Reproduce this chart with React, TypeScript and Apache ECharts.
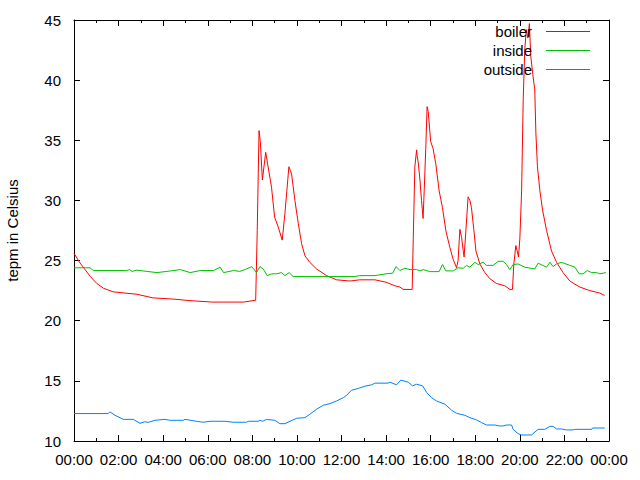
import React, { useEffect, useRef } from "react";
import * as echarts from "echarts";

const seriesNames = ["boiler", "inside", "outside"];
const seriesColors = ["#ff0000", "#00c000", "#0080ff"];
const yTitle = "tepm in Celsius";

// [hour of day, temperature]
const boiler: [number, number][] = [
  [0, 25.6], [0.27, 24.8], [0.72, 23.7], [1.02, 23.1], [1.32, 22.7], [1.76, 22.4], [2.29, 22.3], [2.82, 22.2],
  [3.54, 21.9], [4.44, 21.8], [5.2, 21.67], [6.2, 21.55], [7.6, 21.55], [8.03, 21.67], [8.15, 21.7], [8.22, 27.5],
  [8.3, 35.8], [8.36, 34.9], [8.45, 31.7], [8.6, 34.0], [8.68, 33.1], [8.86, 31.1], [9.0, 28.6], [9.16, 27.8],
  [9.34, 26.7], [9.46, 28.9], [9.64, 32.8], [9.76, 32.2], [9.91, 30.0], [10.06, 28.1], [10.21, 26.4], [10.36, 25.4],
  [10.58, 24.85], [10.88, 24.3], [11.33, 23.75], [11.78, 23.4], [12.38, 23.3], [12.82, 23.4], [13.5, 23.4], [14.0, 23.2],
  [14.4, 22.9], [14.62, 22.8], [14.77, 22.6], [15.17, 22.6], [15.22, 26.9], [15.29, 32.8], [15.37, 34.2], [15.39, 33.75],
  [15.44, 33.2], [15.52, 31.7], [15.59, 30.0], [15.66, 28.5], [15.71, 30.8], [15.78, 34.3], [15.84, 37.8], [15.89, 37.4],
  [16.0, 34.9], [16.11, 34.3], [16.23, 33.05], [16.38, 30.8], [16.53, 29.4], [16.68, 27.5], [16.86, 26.1], [17.01, 25.1],
  [17.16, 24.4], [17.23, 25.0], [17.31, 27.6], [17.39, 26.9], [17.46, 25.8], [17.5, 25.3], [17.58, 27.5], [17.68, 30.3],
  [17.76, 30.0], [17.83, 29.4], [17.94, 27.5], [18.03, 25.8], [18.21, 24.7], [18.43, 24.0], [18.65, 23.5], [18.95, 23.1],
  [19.33, 22.9], [19.55, 22.6], [19.67, 22.6], [19.73, 24.7], [19.82, 26.25], [19.88, 25.8], [19.94, 25.3], [20.0, 26.8],
  [20.08, 30.8], [20.15, 38.3], [20.22, 42.5], [20.29, 44.2], [20.36, 43.5], [20.43, 44.7], [20.49, 42.0], [20.58, 40.5],
  [20.67, 39.2], [20.72, 35.6], [20.79, 32.8], [20.9, 30.8], [21.02, 29.2], [21.2, 27.5], [21.42, 25.8], [21.65, 24.85],
  [21.94, 24.0], [22.24, 23.3], [22.69, 22.8], [23.14, 22.5], [23.59, 22.3], [23.81, 22.1],
];

const inside: [number, number][] = [
  [0, 24.4], [0.72, 24.4], [0.87, 24.17], [2.36, 24.17], [2.5, 24.25], [2.6, 24.1], [2.82, 24.2], [3.27, 24.1],
  [3.72, 24.0], [4.17, 24.1], [4.77, 24.25], [5.21, 24.0], [5.66, 24.17], [6.26, 24.17], [6.56, 24.45], [6.71, 24.0],
  [7.16, 24.17], [7.44, 24.1], [7.74, 24.3], [7.97, 24.5], [8.19, 24.0], [8.34, 24.5], [8.49, 24.3], [8.67, 23.75],
  [8.87, 23.9], [9.09, 23.9], [9.31, 24.0], [9.46, 23.75], [9.65, 24.0], [9.83, 23.67], [12.6, 23.67], [12.82, 23.75],
  [13.5, 23.75], [14.0, 23.9], [14.3, 23.95], [14.45, 24.5], [14.62, 24.17], [14.84, 24.36], [15.07, 24.25], [15.37, 24.25],
  [15.52, 24.14], [15.66, 24.25], [15.96, 24.08], [16.38, 24.08], [16.53, 24.67], [16.68, 24.14], [17.01, 24.14], [17.23, 24.4],
  [17.46, 24.36], [17.61, 24.6], [17.76, 24.45], [17.98, 24.86], [18.13, 24.67], [18.35, 24.86], [18.5, 24.6], [18.8, 24.6],
  [19.03, 24.94], [19.25, 24.94], [19.4, 24.67], [19.55, 24.25], [19.7, 24.67], [19.92, 24.72], [20.22, 24.45], [20.67, 24.3],
  [20.82, 24.78], [21.2, 24.45], [21.35, 24.86], [21.49, 24.5], [21.65, 24.72], [21.87, 24.86], [22.24, 24.6], [22.47, 24.45],
  [22.66, 23.9], [22.84, 23.9], [23.02, 24.17], [23.22, 24.0], [23.44, 24.0], [23.59, 23.9], [23.86, 24.0],
];

const outside: [number, number][] = [
  [0, 12.28], [1.54, 12.28], [1.61, 12.42], [1.84, 12.14], [2.21, 11.8], [2.66, 11.8], [2.96, 11.47], [3.18, 11.6],
  [3.33, 11.55], [3.63, 11.72], [4.08, 11.8], [4.3, 11.72], [4.9, 11.72], [4.98, 11.8], [5.5, 11.64], [5.8, 11.56],
  [6.1, 11.64], [6.77, 11.64], [7.14, 11.56], [7.74, 11.56], [7.82, 11.64], [8.26, 11.64], [8.34, 11.72], [8.46, 11.64],
  [8.64, 11.8], [9.01, 11.72], [9.24, 11.44], [9.46, 11.44], [9.69, 11.64], [9.99, 11.89], [10.36, 11.94], [10.58, 12.22],
  [10.88, 12.64], [11.18, 12.97], [11.48, 13.11], [11.78, 13.33], [12.08, 13.6], [12.23, 13.8], [12.45, 14.22], [12.75, 14.37],
  [13.05, 14.56], [13.35, 14.67], [13.5, 14.81], [14.09, 14.81], [14.17, 14.89], [14.47, 14.67], [14.66, 15.06], [14.99, 14.89],
  [15.19, 14.58], [15.37, 14.72], [15.64, 14.58], [15.82, 14.03], [16.04, 13.6], [16.26, 13.33], [16.64, 13.06], [16.94, 12.56],
  [17.16, 12.3], [17.53, 12.14], [17.76, 11.94], [18.06, 11.75], [18.28, 11.53], [18.51, 11.33], [18.88, 11.33], [19.1, 11.25],
  [19.25, 11.25], [19.4, 11.33], [19.63, 11.33], [19.7, 10.97], [19.92, 10.61], [20.08, 10.5], [20.52, 10.5], [20.82, 10.97],
  [21.12, 10.97], [21.35, 11.22], [21.49, 11.22], [21.65, 11.0], [21.87, 11.0], [22.09, 10.92], [22.39, 10.92], [22.47, 10.97],
  [23.22, 10.97], [23.26, 11.08], [23.81, 11.08],
];

const seriesData = [boiler, inside, outside];

const FONT = "'Liberation Sans', Arial, sans-serif";
const FS = 15;

export default function App() {
  const ref = useRef<HTMLDivElement>(null);
  useEffect(() => {
    if (!ref.current) return;
    const chart = echarts.init(ref.current, undefined, { renderer: "svg" });
    const pad = (n: number) => (n < 10 ? "0" + n : "" + n);
    const xCommon = {
      type: "value" as const,
      min: 0,
      max: 24,
      interval: 2,
      axisLine: { show: true, onZero: false, lineStyle: { color: "#000", width: 1 } },
      axisTick: { show: true, inside: true, length: 6, lineStyle: { color: "#000" } },
      minorTick: { show: true, splitNumber: 2, length: 3, lineStyle: { color: "#000" } },
      splitLine: { show: false },
    };
    const yCommon = {
      type: "value" as const,
      min: 10,
      max: 45,
      interval: 5,
      axisLine: { show: true, onZero: false, lineStyle: { color: "#000", width: 1 } },
      axisTick: { show: true, inside: true, length: 6, lineStyle: { color: "#000" } },
      splitLine: { show: false },
    };
    chart.setOption({
      animation: false,
      backgroundColor: "#fff",
      grid: { left: 74, right: 31, top: 20, bottom: 39, containLabel: false, outerBoundsMode: "none" },
      xAxis: [
        {
          ...xCommon,
          position: "bottom",
          axisLabel: {
            show: true,
            margin: 11,
            color: "#000",
            fontSize: FS,
            fontFamily: FONT,
            formatter: (v: number) => pad(Math.round(v) % 24) + ":00",
          },
        },
        { ...xCommon, position: "top", axisLabel: { show: false } },
      ],
      yAxis: [
        {
          ...yCommon,
          position: "left",
          name: yTitle,
          nameLocation: "middle",
          nameGap: 54,
          nameRotate: 90,
          nameTextStyle: { color: "#000", fontSize: FS, fontFamily: FONT },
          axisLabel: { show: true, margin: 13, color: "#000", fontSize: FS, fontFamily: FONT },
        },
        { ...yCommon, position: "right", axisLabel: { show: false } },
      ],
      legend: seriesNames.map((name, i) => ({
        data: [{ name, itemStyle: { color: seriesColors[i] } }],
        orient: "vertical",
        align: "right",
        right: 50,
        top: 23 + i * 19,
        icon: "rect",
        itemWidth: 44,
        itemHeight: 1,
        padding: 0,
        selectedMode: false,
        textStyle: { color: "#000", fontSize: FS, fontFamily: FONT, lineHeight: 17, padding: [0, 9, 0, 0] },
      })),
      series: seriesNames.map((name, i) => ({
        name,
        type: "line",
        xAxisIndex: 0,
        yAxisIndex: 0,
        data: seriesData[i],
        showSymbol: false,
        symbol: "none",
        color: seriesColors[i],
        lineStyle: { color: seriesColors[i], width: 1 },
        itemStyle: { color: seriesColors[i] },
      })),
    });
    return () => chart.dispose();
  }, []);
  return <div ref={ref} style={{ width: 640, height: 480, position: "absolute", left: 0, top: 0 }} />;
}
